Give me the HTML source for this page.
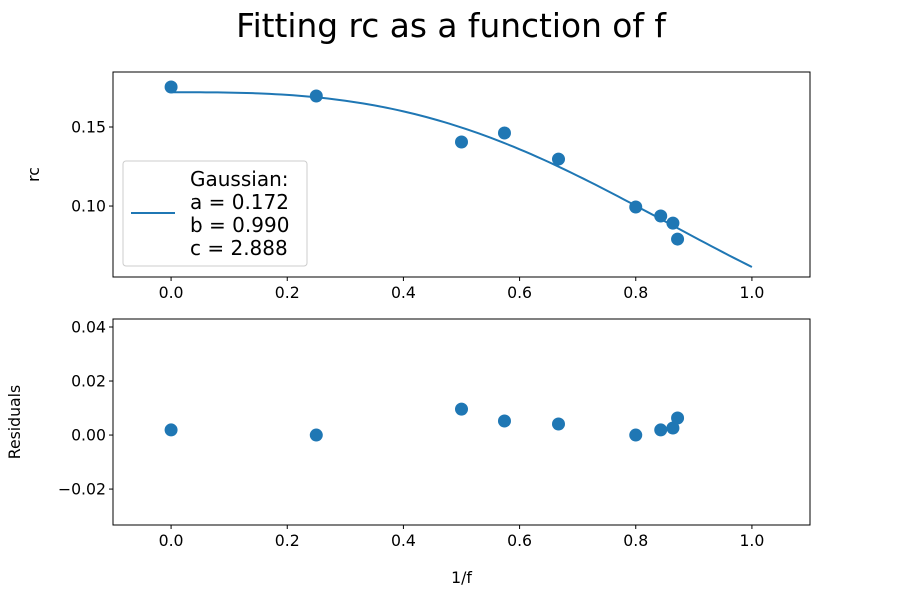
<!DOCTYPE html>
<html><head><meta charset="utf-8"><style>
body{margin:0;background:#fff;}
svg text{font-family:"DejaVu Sans","Liberation Sans",sans-serif;fill:#000;}
</style></head><body>
<svg id="chart" width="900" height="600" xmlns="http://www.w3.org/2000/svg">
<rect width="900" height="600" fill="#fff"/>
<text x="451" y="37" text-anchor="middle" font-size="32.8">Fitting rc as a function of f</text>
<g id="top"></g>
<g id="bot"></g>
</svg>
<script>
const xVals=[0,0.25,0.5,0.574,0.667,0.8,0.843,0.864,0.872];
const rcVals=[0.1753,0.1696,0.1405,0.1462,0.1297,0.0994,0.0937,0.0892,0.0791];
const resVals=[0.0019,0,0.0096,0.0052,0.0041,0,0.0019,0.0026,0.0063];
const fitA=0.172, fitB=0.990, fitC=2.888;
const xTicks=[0,0.2,0.4,0.6,0.8,1.0];
const topTicks=[0.10,0.15];
const botTicks=[-0.02,0,0.02,0.04];
const NS="http://www.w3.org/2000/svg";
function mk(p,t,a){const e=document.createElementNS(NS,t);for(const k in a)e.setAttribute(k,a[k]);p.appendChild(e);return e;}
const L=113,R=810;
const sx=v=>L+(v+0.1)/1.2*(R-L);
function panel(g,T,B,ymin,ymax,ticks,fmt,ylabel,name){
  const sy=v=>B-(v-ymin)/(ymax-ymin)*(B-T);
  const f=mk(g,'rect',{x:L,y:T,width:R-L,height:B-T,fill:'none',stroke:'#000','stroke-width':1});
  
  
  xTicks.forEach(v=>{mk(g,'line',{x1:sx(v),x2:sx(v),y1:B,y2:B+4,stroke:'#000'});
    const t=mk(g,'text',{x:sx(v),y:B+21,'text-anchor':'middle','font-size':15.7});t.textContent=v.toFixed(1);
    
    });
  ticks.forEach(v=>{mk(g,'line',{x1:L-4,x2:L,y1:sy(v),y2:sy(v),stroke:'#000'});
    const t=mk(g,'text',{x:L-7,y:sy(v)+5.5,'text-anchor':'end','font-size':15.7});t.textContent=fmt(v);
    
    });
  const yl=mk(g,'text',{x:0,y:0,'text-anchor':'middle','font-size':15.7,transform:`translate(${name==='top'?39:20},${(T+B)/2}) rotate(-90)`});
  yl.textContent=ylabel;
  
  
  return sy;
}
const gt=document.getElementById('top'),gb=document.getElementById('bot');
const syT=panel(gt,72,277,0.0551,0.1848,topTicks,v=>v.toFixed(2),'rc','top');
const syB=panel(gb,319,525,-0.0333,0.04296,botTicks,v=>(v<0?'\u22120.02':v.toFixed(2)),'Residuals','bot');
let d='';for(let i=0;i<=100;i++){const x=i/100;const y=fitA*Math.exp(-Math.pow(x/fitB,fitC));d+=(i?'L':'M')+sx(x)+','+syT(y);}
const c=mk(gt,'path',{d:d,fill:'none',stroke:'#1f77b4','stroke-width':2});


xVals.forEach((x,i)=>{const p=mk(gt,'circle',{cx:sx(x),cy:syT(rcVals[i]),r:6.5,fill:'#1f77b4'});
  
  
  const q=mk(gb,'circle',{cx:sx(x),cy:syB(resVals[i]),r:6.5,fill:'#1f77b4'});
  
  });
const lg=mk(gt,'g',{});


mk(lg,'rect',{x:123,y:161,width:184,height:105,rx:3,fill:'#fff','fill-opacity':0.8,stroke:'#ccc'});
mk(lg,'line',{x1:131,x2:175,y1:213,y2:213,stroke:'#1f77b4','stroke-width':2});
['Gaussian:','a = '+fitA.toFixed(3),'b = '+fitB.toFixed(3),'c = '+fitC.toFixed(3)].forEach((s,i)=>{
  const t=mk(lg,'text',{x:190,y:186+i*23,'font-size':20});t.textContent=s;
  
  });
const xl=mk(gb,'text',{x:sx(0.5),y:583,'text-anchor':'middle','font-size':15.7});xl.textContent='1/f';


</script>
</body></html>
